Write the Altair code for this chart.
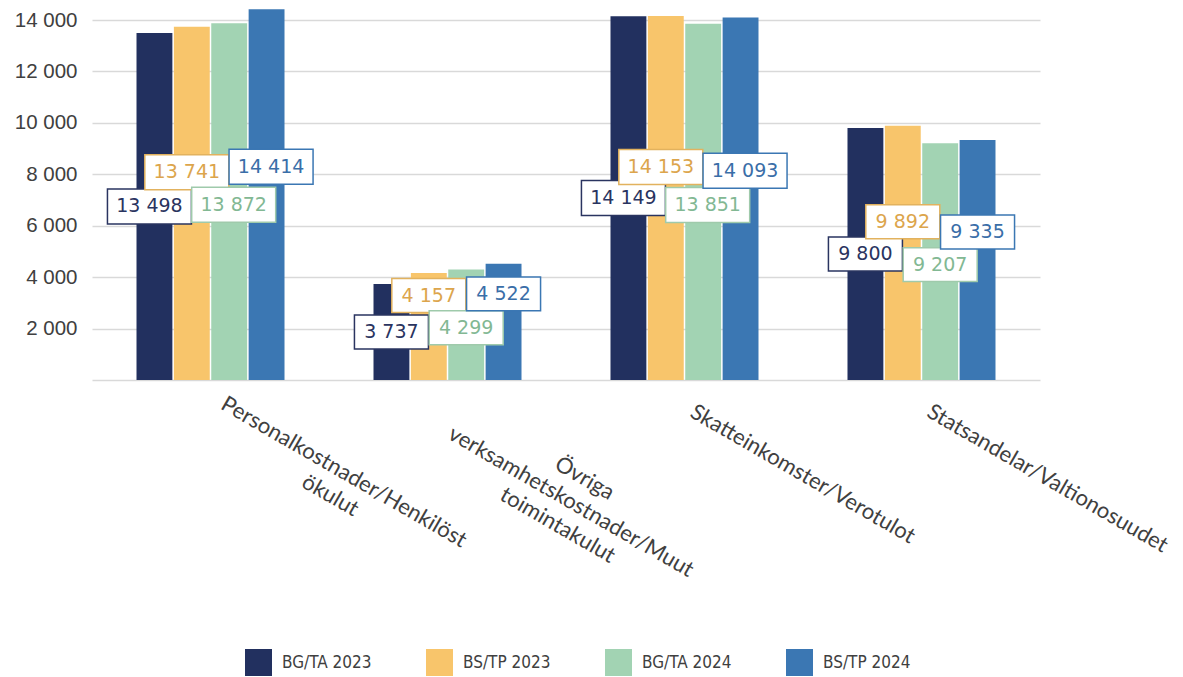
import altair as alt
import pandas as pd

series = ["BG/TA 2023", "BS/TP 2023", "BG/TA 2024", "BS/TP 2024"]
categories = [
    "Personalkostnader/Henkilöstökulut",
    "Övriga verksamhetskostnader/Muut toimintakulut",
    "Skatteinkomster/Verotulot",
    "Statsandelar/Valtionosuudet",
]
category_lines = [
    ["Personalkostnader/Henkilöst", "ökulut"],
    ["Övriga", "verksamhetskostnader/Muut", "toimintakulut"],
    ["Skatteinkomster/Verotulot"],
    ["Statsandelar/Valtionosuudet"],
]
bg_ta_2023 = [13498, 3737, 14149, 9800]
bs_tp_2023 = [13741, 4157, 14153, 9892]
bg_ta_2024 = [13872, 4299, 13851, 9207]
bs_tp_2024 = [14414, 4522, 14093, 9335]
y_ticks = [0, 2000, 4000, 6000, 8000, 10000, 12000, 14000]

# styles
bar_colors = ["#22305f", "#f8c56b", "#a2d3b3", "#3b77b3"]
text_colors = ["#2a3460", "#dca54c", "#82b893", "#3a6ea8"]
border_colors = ["#2a3460", "#e2b25e", "#9fcaab", "#3b77b3"]
row_shift_px = [0, -31, 3, -28]          # label row shift (px, negative = up)
wide_shift_px = [-5, -5, 4.5, 4.5]       # horizontal nudge of wide labels (px)
cat_dx = [143 + 18.5, 141 + 26.9, 136 + 13.4, 145 + 13.4]
cat_dy = [13, 16.6, 22.3, 22.3]

rows = []
for s, vals in zip(series, [bg_ta_2023, bs_tp_2023, bg_ta_2024, bs_tp_2024]):
    for c, v in zip(categories, vals):
        rows.append({"category": c, "series": s, "value": v,
                     "label": f"{v:,}".replace(",", " ")})
df = pd.DataFrame(rows)
cat_df = pd.DataFrame({"category": categories,
                       "lines": ["|".join(l) for l in category_lines]})

W, H = 948, 360
YMAX = 14000
upp = YMAX / H

x_enc = alt.X("category:N", sort=categories, axis=None,
              scale=alt.Scale(paddingInner=0.3755, paddingOuter=0.1878))
xo_enc = alt.XOffset("series:N", sort=series, scale=alt.Scale(paddingInner=0.04))
y_scale = alt.Scale(domain=[0, YMAX], nice=False)

bars = alt.Chart(df).mark_bar().encode(
    x=x_enc,
    xOffset=xo_enc,
    y=alt.Y("value:Q", scale=y_scale,
            axis=alt.Axis(values=y_ticks, title=None, domain=False, ticks=False,
                          grid=True, gridColor="#d9d9d9", gridWidth=1.5,
                          labelExpr="datum.value == 0 ? '' : replace(format(datum.value, ','), ',', ' ')",
                          labelFont="Liberation Sans", labelFontSize=20.5,
                          labelColor="#404040", labelPadding=15)),
    color=alt.Color("series:N", sort=series,
                    scale=alt.Scale(domain=series, range=bar_colors),
                    legend=alt.Legend(title=None, orient="none", legendX=153, legendY=629,
                                      direction="horizontal", symbolType="square",
                                      symbolSize=729, symbolStrokeWidth=0,
                                      labelFont="Liberation Sans Narrow, DejaVu Sans Condensed, Roboto Condensed, Roboto",
                                      labelFontSize=17, labelColor="#404040",
                                      labelOffset=10, columnPadding=54, padding=0)),
)


def box_path(half_h, shift):
    a, b = -1 + shift, 1 + shift
    return f"M{a:.4f},{-half_h:.4f}L{b:.4f},{-half_h:.4f}L{b:.4f},{half_h:.4f}L{a:.4f},{half_h:.4f}Z"


P4 = box_path(0.459, 0)

label_layers = []
for i, s in enumerate(series):
    base = alt.Chart(df).transform_filter(alt.datum.series == s).transform_calculate(
        label_y=f"datum.value / 2 + {-row_shift_px[i] * upp}")
    P5 = box_path(0.4167, wide_shift_px[i] / 42)
    box = base.mark_point(filled=True, fill="white", stroke=border_colors[i],
                          strokeWidth=1.5, opacity=1).encode(
        x=x_enc, xOffset=xo_enc,
        y=alt.Y("label_y:Q", scale=y_scale, title=None),
        shape=alt.condition("datum.value >= 10000", alt.value(P5), alt.value(P4)),
        size=alt.condition("datum.value >= 10000", alt.value(7056), alt.value(5476)),
    )
    enc = dict(x=x_enc, xOffset=xo_enc,
               y=alt.Y("label_y:Q", scale=y_scale, title=None), text="label:N")
    txt_wide = base.transform_filter("datum.value >= 10000").mark_text(
        font="DejaVu Sans", fontSize=19, color=text_colors[i],
        align="center", baseline="middle", dx=wide_shift_px[i]).encode(**enc)
    txt_narrow = base.transform_filter("datum.value < 10000").mark_text(
        font="DejaVu Sans", fontSize=19, color=text_colors[i],
        align="center", baseline="middle").encode(**enc)
    label_layers += [box, txt_wide, txt_narrow]

cat_layers = []
for j, c in enumerate(categories):
    t = alt.Chart(cat_df).transform_filter(alt.datum.category == c).transform_calculate(
        txt="split(datum.lines, '|')"
    ).mark_text(angle=30, align="center", baseline="middle", dx=cat_dx[j], dy=cat_dy[j],
                font="Lato", fontSize=22, lineHeight=27, color="#404040").encode(
        x=x_enc,
        y=alt.datum(0, scale=y_scale),
        text="txt:N",
    )
    cat_layers.append(t)

chart = alt.layer(bars, *label_layers, *cat_layers).properties(
    width=W, height=H,
    autosize=alt.AutoSizeParams(type="none"),
    padding={"left": 84, "top": 12, "right": 135, "bottom": 297},
    background="white",
).configure_view(stroke=None)

chart.save("out.html", embed_options={"renderer": "svg", "actions": False})
